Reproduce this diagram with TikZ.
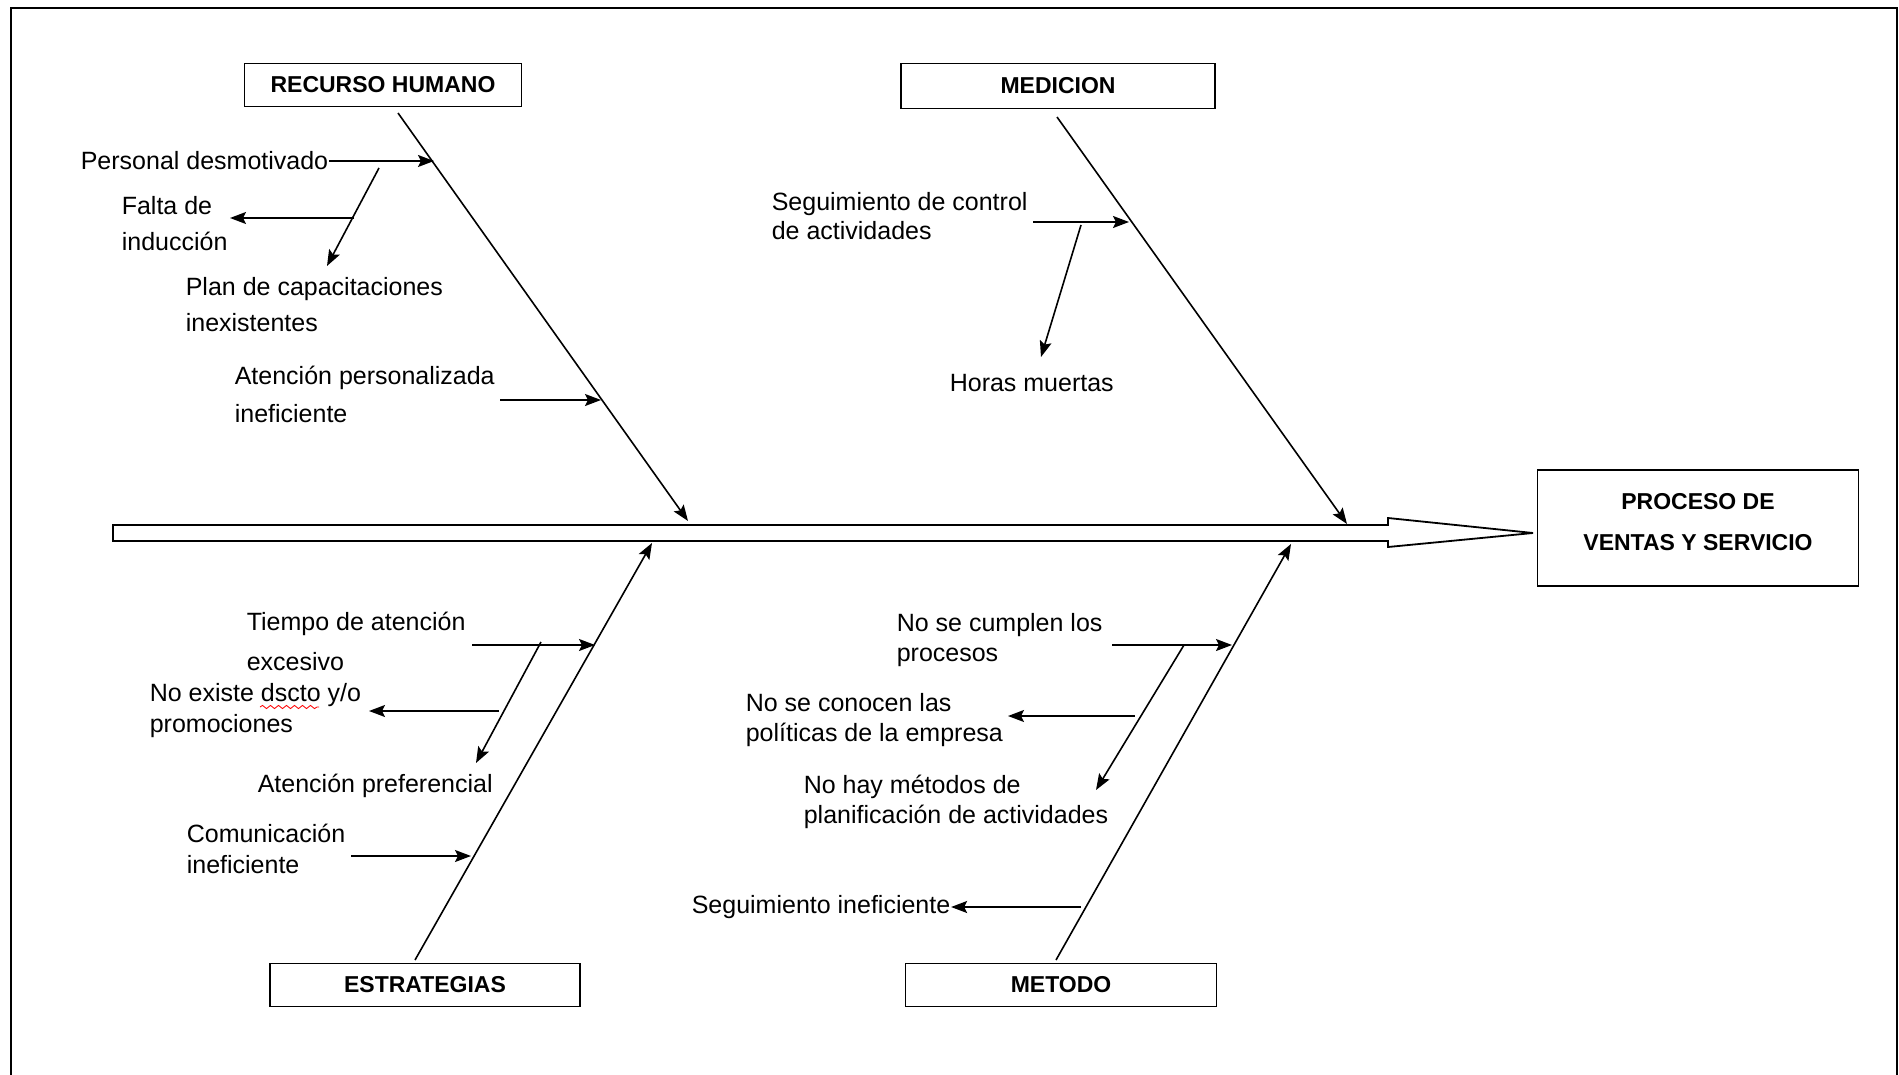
\documentclass[tikz,border=0pt]{standalone}
\usepackage{fontspec}
\setmainfont{Liberation Sans}
\usetikzlibrary{arrows.meta, positioning, calc, decorations.pathmorphing}

\begin{document}
\begin{tikzpicture}[x=0.5pt, y=-0.5pt, >={Stealth[length=8pt, width=6pt, inset=1.5pt]}, line width=0.8pt,
  head/.style={draw, line width=0.9pt, inner sep=0pt, align=center,
    font=\bfseries\fontsize{11.5}{20.5}\selectfont},
  cause/.style={anchor=west, align=left, inner sep=0pt, font=\fontsize{12.5}{#1}\selectfont},
  cause/.default=15]
  \useasboundingbox (0,0) rectangle (1899,1075);
  \draw[line width=1.4pt] (11,1080) -- (11,8) -- (1897,8) -- (1897,1080);

  \node[head, minimum width=138.5pt, minimum height=21.5pt] (rh) at (383,85) {RECURSO HUMANO};
  \node[head, minimum width=157pt, minimum height=22.5pt] (med) at (1058,86) {MEDICION};
  \node[head, minimum width=155pt, minimum height=21.5pt] (est) at (425,985) {ESTRATEGIAS};
  \node[head, minimum width=155.5pt, minimum height=21.5pt] (met) at (1061,985) {METODO};
  \node[head, minimum width=160.5pt, minimum height=58pt] (proc) at (1698,528) {};
  \node[head, draw=none] (proct) at ($(proc.center)+(0,-6)$) {PROCESO DE\\VENTAS Y SERVICIO};

  \draw[line width=0.9pt] (113,525) -- (1388,525) -- (1388,518) -- (1533,533)
    -- (1388,547) -- (1388,541) -- (113,541) -- cycle;

  \coordinate (rh0) at (398,113);  \coordinate (rh9) at (688,521);
  \coordinate (med0) at (1057,117); \coordinate (med9) at (1347,524);
  \coordinate (est0) at (415,960);  \coordinate (est9) at (652,543);
  \coordinate (met0) at (1056,960); \coordinate (met9) at (1291,544);
  \draw[->] (rh0) -- (rh9);
  \draw[->] (med0) -- (med9);
  \draw[->] (est0) -- (est9);
  \draw[->] (met0) -- (met9);

  \node[cause] (pers) at (80,161) {Personal desmotivado};
  \node[cause=18] (falta) at (121,224) {Falta de\\inducción};
  \node[cause=18] (plan) at (185,305) {Plan de capacitaciones\\inexistentes};
  \node[cause=19] (atper) at (234,394) {Atención personalizada\\ineficiente};
  \coordinate (rh1) at (434,161); \coordinate (rh2) at (601,400);
  \coordinate (pd) at (379,168);  \coordinate (pe) at (327,266);
  \coordinate (fd) at (354,218);  \coordinate (ae) at (500,400);
  \draw[->] (pers.east) -- (rh1);
  \draw[->] (pd) -- (pe);
  \draw[->] (fd) -- (230,218);
  \draw[->] (ae) -- (rh2);

  \node[cause=14.5] (segctl) at (771,216) {Seguimiento de control\\de actividades};
  \node[cause] (horas) at (949,383) {Horas muertas};
  \coordinate (sa) at (1033,222); \coordinate (med1) at (1129,222);
  \coordinate (hd) at (1081,225); \coordinate (he) at (1041,357);
  \draw[->] (sa) -- (med1);
  \draw[->] (hd) -- (he);

  \node[cause=20] (tiempo) at (246,641) {Tiempo de atención\\excesivo};
  \node[cause=15.5] (noex) at (149,711) {No existe dscto y/o\\promociones};
  \node[cause] (atpref) at (257,786) {Atención preferencial};
  \node[cause=15.5] (comun) at (186,849) {Comunicación\\ineficiente};
  \coordinate (ta) at (472,645); \coordinate (est1) at (595,645);
  \coordinate (td) at (541,642); \coordinate (te) at (476,763);
  \coordinate (na) at (499,711); \coordinate (ne) at (369,711);
  \coordinate (ca) at (351,856); \coordinate (est2) at (471,856);
  \draw[->] (ta) -- (est1);
  \draw[->] (td) -- (te);
  \draw[->] (na) -- (ne);
  \draw[->] (ca) -- (est2);
  \draw[red, line width=0.4pt, decorate, decoration={snake, amplitude=0.8pt, segment length=4pt}]
    (260,707) -- (319,707);

  \node[cause] (cumplen) at (896,640) {No se cumplen los\\procesos};
  \node[cause] (conocen) at (745,720) {No se conocen las\\políticas de la empresa};
  \node[cause] (metodos) at (803,802) {No hay métodos de\\planificación de actividades};
  \node[cause] (segine) at (691,907) {Seguimiento ineficiente};
  \coordinate (ma) at (1112,645); \coordinate (met1) at (1232,645);
  \coordinate (md) at (1184,645); \coordinate (me) at (1096,790);
  \coordinate (ka) at (1135,716); \coordinate (ke) at (1008,716);
  \coordinate (sb) at (1081,907);
  \draw[->] (ma) -- (met1);
  \draw[->] (md) -- (me);
  \draw[->] (ka) -- (ke);
  \draw[->] (sb) -- (segine.east);
\end{tikzpicture}
\end{document}
